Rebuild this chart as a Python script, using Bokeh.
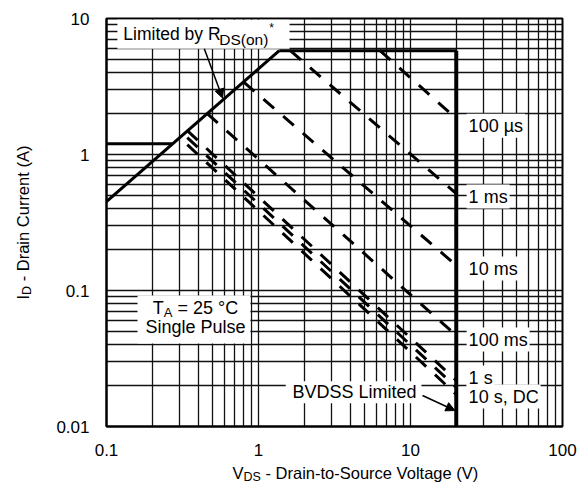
import math
from bokeh.plotting import figure
from bokeh.layouts import row, column
from bokeh.models import Range1d, FixedTicker, CustomJSTickFormatter, Label, Arrow, NormalHead
from bokeh.embed import file_html
from bokeh.resources import INLINE

# ---------------- data ----------------
vds_ticks = [0.1, 1, 10, 100]
id_ticks = [0.01, 0.1, 1, 10]
vds_minor = [m * d for d in (0.1, 1, 10) for m in range(2, 10)]
id_minor = [m * d for d in (0.01, 0.1, 1) for m in range(2, 10)]

# R_DS(on) limit line
rds_v = [0.1, 1.37]
rds_i = [0.45, 5.8]
# current limit at low voltage
ilim_v = [0.1, 0.27]
ilim_i = [1.2, 1.2]
# package current limit
pkg_v = [1.37, 20]
pkg_i = [5.8, 5.8]
# BVDSS limit
bv_v = [20, 20]
bv_i = [5.8, 0.01]

# pulse-duration lines
pulse_names = ["100 µs", "1 ms", "10 ms", "100 ms", "1 s", "10 s", "DC"]
pulse_v_start = [6.3, 1.62, 0.80, 0.46, 0.34, 0.34, 0.34]
pulse_i_start = [5.8, 5.8, 3.4, 2.0, 1.5, 1.33, 1.18]
pulse_v_end = [20, 20, 20, 20, 20, 20, 20]
pulse_i_end = [1.84, 0.516, 0.153, 0.0467, 0.0218, 0.0194, 0.0172]

right_labels = ["100 µs", "1 ms", "10 ms", "100 ms", "1 s", "10 s, DC"]
right_label_i = [1.63, 0.491, 0.145, 0.0436, 0.0229, 0.0166]
right_label_v = 23.4

FONT = "Liberation Sans"

p = figure(width=537, height=460, x_axis_type="log", y_axis_type="log",
           x_range=Range1d(0.1, 100), y_range=Range1d(0.01, 10),
           output_backend="svg", toolbar_location=None,
           min_border_left=66, min_border_right=15, min_border_top=18, min_border_bottom=34)
p.background_fill_color = "white"
p.border_fill_color = "white"
p.outline_line_color = "black"
p.outline_line_width = 2

p.xaxis.ticker = FixedTicker(ticks=vds_ticks, minor_ticks=vds_minor)
p.yaxis.ticker = FixedTicker(ticks=id_ticks, minor_ticks=id_minor)
p.xaxis.formatter = CustomJSTickFormatter(code="return String(tick);")
p.yaxis.formatter = CustomJSTickFormatter(code="return String(tick);")
for ax in (p.xaxis, p.yaxis):
    ax.major_tick_line_color = None
    ax.minor_tick_line_color = None
    ax.axis_line_color = "black"
    ax.axis_line_width = 2
    ax.major_label_text_font = FONT
    ax.major_label_text_font_size = "17px"
    ax.major_label_text_color = "black"
    ax.axis_label = None
p.xaxis.major_label_standoff = 11
p.yaxis.major_label_standoff = 11

for g in (p.xgrid, p.ygrid):
    g.grid_line_color = "#111111"
    g.grid_line_width = 1.3
    g.grid_line_alpha = 1
    g.minor_grid_line_color = "#111111"
    g.minor_grid_line_width = 1.3
    g.minor_grid_line_alpha = 1

# white label boxes (annotation backgrounds)
p.quad(left=[0.118, 0.16, 1.51], right=[1.6, 0.885, 11.8],
       bottom=[6.0, 0.0408, 0.0148], top=[9.8, 0.092, 0.0215],
       fill_color="white", line_color=None)

# limit lines
p.line(rds_v, rds_i, line_color="black", line_width=3)
p.line(ilim_v, ilim_i, line_color="black", line_width=3)
p.line(pkg_v, pkg_i, line_color="black", line_width=3)
p.line(bv_v, bv_i, line_color="black", line_width=4)

xs = [[a, b] for a, b in zip(pulse_v_start, pulse_v_end)]
ys = [[a, b] for a, b in zip(pulse_i_start, pulse_i_end)]
p.multi_line(xs, ys, line_color="black", line_width=3, line_dash="14 12")


def lab(fig, x, y, text, size="18px", xo=0, yo=0, align="left", angle=0, bg=None):
    l = Label(x=x, y=y, text=text, x_offset=xo, y_offset=yo, text_font=FONT,
              text_font_size=size, text_align=align, text_baseline="middle",
              angle=angle, text_color="black")
    if bg:
        l.background_fill_color = bg
        l.padding = 2
    fig.add_layout(l)


for t, yv in zip(right_labels, right_label_i):
    lab(p, right_label_v, yv, t, bg="white")

# Limited by R_DS(on)*
lab(p, 0.129, 7.63, "Limited by R", size="17.5px")
lab(p, 0.129, 7.63, "DS(on)", size="15.5px", xo=96, yo=-5)
lab(p, 0.129, 7.63, "*", size="12px", xo=146, yo=6)
p.add_layout(Arrow(end=NormalHead(size=9, fill_color="black", line_color="black"),
                   x_start=0.44, y_start=6.0, x_end=0.58, y_end=2.6,
                   line_color="black", line_width=1.5))

# T_A = 25 °C / Single Pulse
lab(p, 0.385, 0.0738, "T", xo=-42.7)
lab(p, 0.385, 0.0738, "A", size="13px", xo=-31.7, yo=-4.5)
lab(p, 0.385, 0.0738, "= 25 °C", xo=-18)
lab(p, 0.385, 0.0535, "Single Pulse", align="center")

# BVDSS Limited
lab(p, 4.28, 0.0178, "BVDSS Limited", align="center")
p.add_layout(Arrow(end=NormalHead(size=9, fill_color="black", line_color="black"),
                   x_start=12.0, y_start=0.0169, x_end=19.6, y_end=0.0131,
                   line_color="black", line_width=1.5))


def blank(w, h, xr, yr, bl=0, br=0, bt=0, bb=0):
    f = figure(width=w, height=h, x_range=Range1d(0, xr), y_range=Range1d(0, yr),
               output_backend="svg", toolbar_location=None,
               x_axis_location=None, y_axis_location=None,
               min_border=0, min_border_left=bl, min_border_right=br,
               min_border_top=bt, min_border_bottom=bb)
    f.grid.visible = False
    f.outline_line_color = None
    f.background_fill_color = "white"
    f.border_fill_color = "white"
    return f


# x-axis title (with subscript); frame aligned with main frame (x = px from frame left)
xt = blank(537, 26, 456, 26, bl=66, br=15)
lab(xt, 126, 14, "V", size="16.5px")
lab(xt, 137, 9.5, "DS", size="12.5px")
lab(xt, 159, 14, "- Drain-to-Source Voltage (V)", size="16.5px")

# y-axis title (with subscript), rotated; y = px up from frame bottom
yt = blank(40, 486, 40, 408, bt=18, bb=60)
lab(yt, 22, 127, "I", size="16.5px", angle=math.pi / 2)
lab(yt, 26, 131.6, "D", size="12.5px", angle=math.pi / 2)
lab(yt, 22, 145.2, "- Drain Current (A)", size="16.5px", angle=math.pi / 2)

layout = row(yt, column(p, xt))
open("out.html", "w").write(file_html(layout, INLINE))
